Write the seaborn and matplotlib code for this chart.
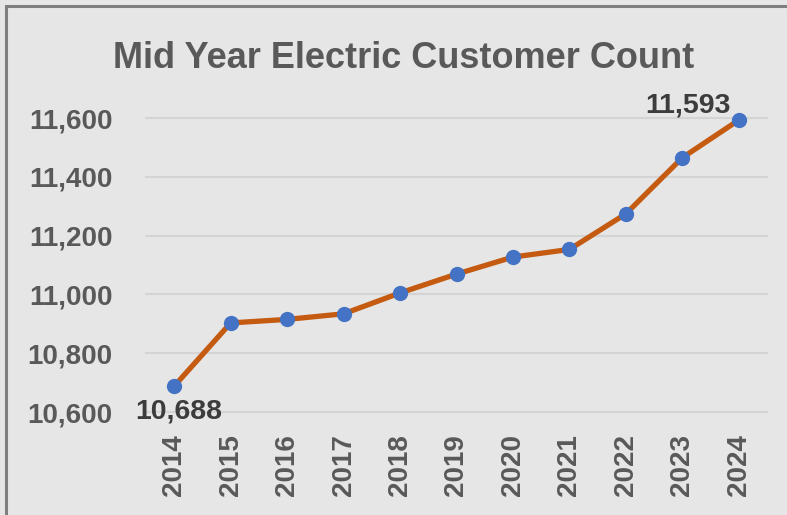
import matplotlib
matplotlib.use("Agg")
import matplotlib.pyplot as plt
import seaborn as sns
import pandas as pd
from matplotlib.patches import Rectangle

years = ["2014", "2015", "2016", "2017", "2018", "2019", "2020", "2021", "2022", "2023", "2024"]
customers = [10688, 10903, 10915, 10934, 11005, 11069, 11127, 11153, 11274, 11465, 11593]
y_ticks = [10600, 10800, 11000, 11200, 11400, 11600]
title = "Mid Year Electric Customer Count"

BG = "#e6e6e6"
GRID = "#d4d4d4"
TXT = "#595959"
LBL = "#3c3c3c"
LINE = "#C55A11"
MARK = "#4472C4"

sns.set_theme(style="white")
plt.rcParams["font.family"] = ["Liberation Sans", "DejaVu Sans"]

df = pd.DataFrame({"year": years, "customers": customers})

fig = plt.figure(figsize=(7.87, 5.15), dpi=100)
fig.patch.set_facecolor(BG)
ax = fig.add_axes([146 / 787, 1 - 412 / 515, (767 - 146) / 787, (412 - 118) / 515])
ax.set_facecolor(BG)

sns.lineplot(data=df, x="year", y="customers", ax=ax, color=LINE, linewidth=3.8,
             marker="o", markersize=11, markerfacecolor=MARK, markeredgecolor=MARK,
             markeredgewidth=0, sort=False, zorder=3)
for ln in ax.lines:
    ln.set_clip_on(False)

ax.set_xlim(-0.5, len(years) - 0.5)
ax.set_ylim(y_ticks[0], y_ticks[-1])
ax.set_yticks(y_ticks)
ax.set_yticklabels([f"{v:,}" for v in y_ticks])
ax.set_xticks(range(len(years)))
ax.set_xticklabels(years, rotation=90)
ax.set_xlabel("")
ax.set_ylabel("")

for v in y_ticks:
    ax.axhline(v, color=GRID, linewidth=1.6, zorder=1, clip_on=False)

for s in ax.spines.values():
    s.set_visible(False)

ax.tick_params(axis="y", length=0, pad=24, labelsize=20, labelcolor=TXT)
ax.tick_params(axis="x", length=0, pad=16, labelsize=20, labelcolor=TXT)
for lab in ax.get_xticklabels() + ax.get_yticklabels():
    lab.set_fontweight("bold")

# data labels for first and last points
ax.annotate(f"{customers[0]:,}", xy=(0, customers[0]), xytext=(3.6, -23),
            textcoords="offset points", ha="center", va="baseline",
            fontsize=20.5, fontweight="bold", color=LBL, zorder=4, annotation_clip=False)
ax.annotate(f"{customers[-1]:,}", xy=(len(years) - 1, customers[-1]), xytext=(-5.8, 5.8),
            textcoords="offset points", ha="right", va="baseline",
            fontsize=20.5, fontweight="bold", color=LBL, zorder=4, annotation_clip=False)

fig.text(403.5 / 787, 1 - 68 / 515, title, ha="center", va="baseline",
         fontsize=26, fontweight="bold", color=TXT)

# chart frame (left and top edges visible)
fig.patches.append(Rectangle((6 / 787, -0.1), 1.2, 1 - 6 / 515 + 0.1,
                             transform=fig.transFigure, fill=False,
                             edgecolor="#7f7f7f", linewidth=2.2, zorder=10))

fig.savefig("out.png", dpi=100, facecolor=BG)
